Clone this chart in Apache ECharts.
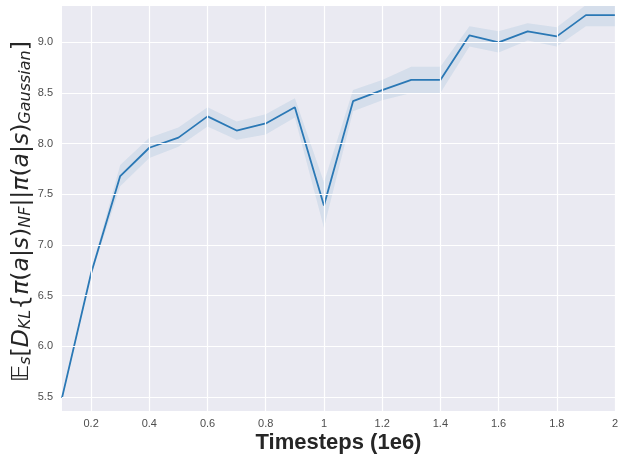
<!DOCTYPE html>
<html>
<head>
<meta charset="utf-8">
<script src="https://cdn.jsdelivr.net/npm/echarts@6/dist/echarts.min.js"></script>
<style>html,body{margin:0;padding:0;background:#fff}#c{width:620px;height:454px}</style>
</head>
<body>
<div id="c"></div>
<script>
var steps = [0.1,0.2,0.3,0.4,0.5,0.6,0.7,0.8,0.9,1.0,1.1,1.2,1.3,1.4,1.5,1.6,1.7,1.8,1.9,2.0];
var meanKL  = [5.49,6.72,7.68,7.96,8.06,8.27,8.13,8.20,8.36,7.39,8.42,8.53,8.63,8.63,9.07,9.00,9.11,9.06,9.27,9.27];
var lowerKL = [5.47,6.70,7.58,7.86,7.97,8.17,8.04,8.09,8.26,7.17,8.32,8.43,8.50,8.50,8.96,8.90,9.02,8.96,9.16,9.16];
var upperKL = [5.51,6.74,7.79,8.06,8.16,8.36,8.22,8.29,8.45,7.62,8.53,8.63,8.76,8.76,9.16,9.11,9.19,9.15,9.37,9.37];
var xTicks = [0.2,0.4,0.6,0.8,1.0,1.2,1.4,1.6,1.8,2.0];
var yTicks = [5.5,6.0,6.5,7.0,7.5,8.0,8.5,9.0];
var xTitle = 'Timesteps (1e6)';

var chart = echarts.init(document.getElementById('c'), null, {renderer:'canvas'});
var meanData = steps.map(function(x,i){return [x, meanKL[i]];});
var bandData = steps.map(function(x,i){return [x, lowerKL[i], upperKL[i]];});

var gridLines = xTicks.map(function(v){return {xAxis:v};}).concat(yTicks.map(function(v){return {yAxis:v};}));

var yName = '{bb|𝔼}{sub|s}{n|[}{it|D}{sub|KL}{n|{}{it|π}{n|(}{it|a}{n||}{it|s}{n|)}{sub|NF}{n|||}{it|π}{n|(}{it|a}{n||}{it|s}{n|)}{sub|Gaussian}{n|}]';
chart.setOption({
  backgroundColor:'#ffffff',
  animation:false,
  grid:{left:62,right:5,top:6,bottom:43,show:true,backgroundColor:'#eaeaf2',borderWidth:0,outerBoundsMode:'none',containLabel:false},
  xAxis:{
    type:'value',min:0.1,max:2,interval:0.1,
    axisLine:{show:false},axisTick:{show:false},
    splitLine:{show:false},
    axisLabel:{color:'#4d4d4d',fontSize:11,fontFamily:'Liberation Sans',margin:7,
      formatter:function(v){var k=Math.round(v*10); if(k%2!==0) return ''; return String(+(k/10).toFixed(1));}},
    name:xTitle,nameLocation:'middle',nameGap:21,nameMoveOverlap:false,
    nameTextStyle:{fontSize:22,fontWeight:'bold',color:'#262626',fontFamily:'Liberation Sans'}
  },
  yAxis:{
    type:'value',min:5.36,max:9.36,interval:0.02,
    axisLine:{show:false},axisTick:{show:false},
    splitLine:{show:false},
    axisLabel:{color:'#4d4d4d',fontSize:11,fontFamily:'Liberation Sans',margin:9,
      formatter:function(v){var k=Math.round(v*100); if(k%50!==0) return ''; return (k/100).toFixed(1);}},
    name:yName,nameLocation:'middle',nameRotate:90,nameGap:28,nameMoveOverlap:false,
    nameTextStyle:{fontSize:23.5,color:'#262626',fontFamily:'DejaVu Sans',padding:[0,6,0,0],
      rich:{
        n:{fontSize:23.5,color:'#262626',fontFamily:'DejaVu Sans'},
        bb:{fontSize:23.5,color:'#262626',fontFamily:'DejaVu Sans'},
        it:{fontSize:23.5,color:'#262626',fontFamily:'DejaVu Sans',fontStyle:'italic'},
        sub:{fontSize:16,color:'#262626',fontFamily:'DejaVu Sans',fontStyle:'italic',verticalAlign:'bottom',padding:[8,0,0,0]}
      }}
  },
  series:[
    {type:'line',data:[],z:1,silent:true,
      markLine:{silent:true,symbol:'none',label:{show:false},animation:false,
        lineStyle:{color:'#ffffff',width:1.2,type:'solid'},data:gridLines}},
    {type:'custom',data:bandData,z:2,silent:true,clip:true,
      renderItem:function(params,api){
        if(params.dataIndex!==0) return null;
        var pts=[],i;
        for(i=0;i<steps.length;i++) pts.push(api.coord([steps[i],upperKL[i]]));
        for(i=steps.length-1;i>=0;i--) pts.push(api.coord([steps[i],lowerKL[i]]));
        return {type:'polygon',shape:{points:pts},style:{fill:'rgba(31,119,180,0.1)'}};
      }},
    {type:'line',data:meanData,z:3,symbol:'none',lineStyle:{color:'#2a78b5',width:1.8}}
  ]
});
</script>
</body>
</html>
